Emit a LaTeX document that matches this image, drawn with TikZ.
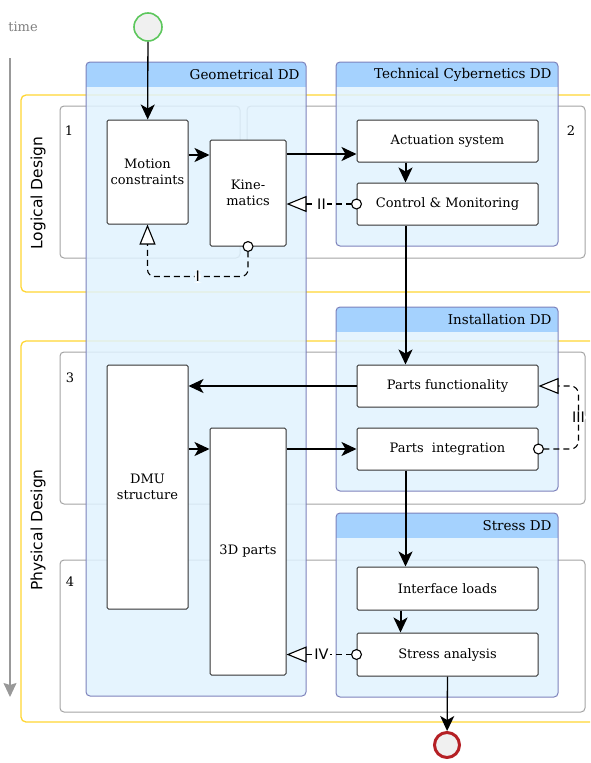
\documentclass[tikz,border=0pt]{standalone}
\usepackage{fontspec}
\setmainfont{DejaVu Serif}
\setsansfont{DejaVu Sans}
\usetikzlibrary{arrows.meta,positioning}

\definecolor{poolhead}{HTML}{9BCDFF}
\definecolor{poolbody}{HTML}{E0F2FE}
\definecolor{poolline}{HTML}{7C81BB}
\definecolor{laneyellow}{HTML}{FFD633}
\definecolor{lanegray}{HTML}{A3A3A3}
\definecolor{startgreen}{HTML}{5DC75D}
\definecolor{endred}{HTML}{B52025}

\tikzset{
  task/.style={draw=black!80, fill=white, line width=1pt, rounded corners=1.5pt,
    align=center, inner sep=2pt, font=\fontsize{13}{15.5}\selectfont},
  flow/.style={-{Stealth[length=15pt, width=14pt, inset=4pt]}, line width=2pt},
  thinflow/.style={flow, line width=1.3pt},
  assoc/.style={{Circle[open, length=11pt, fill=white]}-{Triangle[open, length=20pt, width=16pt, fill=white]},
    line width=1.1pt, dash pattern=on 6pt off 4pt, shorten <=-5.5pt},
  assoclabel/.style={fill=white, inner sep=1pt, font=\sffamily\fontsize{14.5}{16}\selectfont},
  lanebox/.style={draw=lanegray, line width=1pt, rounded corners=4pt},
  phasebox/.style={draw=laneyellow, line width=1.3pt, rounded corners=5pt},
  lanenum/.style={font=\fontsize{13}{15}\selectfont},
  phaselabel/.style={rotate=90, font=\sffamily\fontsize{15.5}{17}\selectfont},
  pooltitle/.style={anchor=east, font=\fontsize{13.5}{15}\selectfont}
}

\begin{document}
\begin{tikzpicture}[x=1pt, y=-1pt]
\clip (0,0) rectangle (590,763);

% Time axis
\node[text=gray, font=\fontsize{13}{15}\selectfont] (time) at (23,27) {time};
\coordinate (tstart) at (10,58);
\coordinate (tend) at (10,697);
\draw[gray!80, line width=1.3pt, -{Stealth[length=14pt, width=13pt, inset=2pt]}] (tstart) -- (tend);

% Design phases
\draw[phasebox] (21,95) rectangle (610,292);
\draw[phasebox] (21,341) rectangle (610,722);
\node[phaselabel] (logical) at (38,193) {Logical Design};
\node[phaselabel] (physical) at (38,530) {Physical Design};

% Lanes
\draw[lanebox] (60,106) rectangle (240,258);
\draw[lanebox] (247,106) rectangle (585,258);
\draw[lanebox] (60,352) rectangle (585,504);
\draw[lanebox] (60,560) rectangle (585,712);
\node[lanenum] (n1) at (69,131) {1};
\node[lanenum] (n2) at (571,131) {2};
\node[lanenum] (n3) at (70,378) {3};
\node[lanenum] (n4) at (70,582) {4};

% Discipline pools
\foreach \i/\xa/\ya/\xb/\yb/\t in {1/86/62/306/696/Geometrical DD,
    2/336/62/558/246/Technical Cybernetics DD,
    3/336/307/558/491/Installation DD,
    4/336/513/558/697/Stress DD} {
  \begin{scope}[fill opacity=0.85]
    \clip[rounded corners=4pt] (\xa,\ya) rectangle (\xb,\yb);
    \fill[poolbody] (\xa,\ya) rectangle (\xb,\yb);
    \fill[poolhead] (\xa,\ya) rectangle (\xb,\ya+25);
  \end{scope}
  \draw[poolline, line width=1pt, rounded corners=4pt] (\xa,\ya) rectangle (\xb,\yb);
  \node[pooltitle] (pool\i) at (\xb-3,\ya+12.5) {\t};
}

% Events
\node[circle, draw=startgreen, line width=1.6pt, fill=gray!12, minimum size=28pt] (start) at (148,27) {};
\node[circle, draw=endred, line width=3pt, fill=gray!12, minimum size=25pt] (end) at (447,745) {};

% Tasks
\node[task, minimum width=81pt, minimum height=104pt] (motion) at (147.5,172) {Motion\\constraints};
\node[task, minimum width=76pt, minimum height=106pt] (kinem) at (248,193) {Kine-\\matics};
\node[task, minimum width=181pt, minimum height=42pt] (actuation) at (447.5,141) {Actuation system};
\node[task, minimum width=181pt, minimum height=42pt] (control) at (447.5,204) {Control \& Monitoring};
\node[task, minimum width=81pt, minimum height=244pt] (dmu) at (147.5,487) {DMU\\structure};
\node[task, minimum width=76pt, minimum height=247pt] (parts3d) at (248,551.5) {3D parts};
\node[task, minimum width=181pt, minimum height=42pt] (partsfunc) at (447.5,386) {Parts functionality};
\node[task, minimum width=181pt, minimum height=42pt] (partsint) at (447.5,449) {Parts\ \ integration};
\node[task, minimum width=181pt, minimum height=43pt] (loads) at (447.5,588.5) {Interface loads};
\node[task, minimum width=181pt, minimum height=43pt] (stress) at (447.5,654.5) {Stress analysis};

% Sequence flows
\draw[thinflow] (start) -- (motion);
\draw[flow] ([yshift=17pt]motion.east) -- ([yshift=17pt]motion.east -| kinem.west);
\draw[flow] ([yshift=-13pt]actuation.west -| kinem.east) -- ([yshift=-13pt]actuation.west);
\draw[flow] ([xshift=-42pt]actuation.south) -- ([xshift=-42pt]control.north);
\draw[flow] ([xshift=-42pt]control.south) -- ([xshift=-42pt]partsfunc.north);
\draw[flow] (partsfunc.west) -- (partsfunc.west -| dmu.east);
\draw[flow] (partsint.west -| dmu.east) -- (partsint.west -| parts3d.west);
\draw[flow] (partsint.west -| parts3d.east) -- (partsint.west);
\draw[flow] ([xshift=-42pt]partsint.south) -- ([xshift=-42pt]loads.north);
\draw[flow] ([xshift=-47pt]loads.south) -- ([xshift=-47pt]stress.north);
\draw[thinflow] (stress.south) -- (end);

% Feedback associations
\draw[assoc, rounded corners=7pt] (kinem.south) -- ++(0,30) -| node[assoclabel, pos=0.25] (lbl1) {I} (motion.south);
\draw[assoc] (control.west) -- node[assoclabel] (lbl2) {II} (control.west -| kinem.east);
\draw[assoc, rounded corners=8pt] (partsint.east) -- ++(40,0) |- node[assoclabel, pos=0.25] (lbl3) {III} (partsfunc.east);
\draw[assoc] (stress.west) -- node[assoclabel] (lbl4) {IV} (stress.west -| parts3d.east);

\end{tikzpicture}
\end{document}
